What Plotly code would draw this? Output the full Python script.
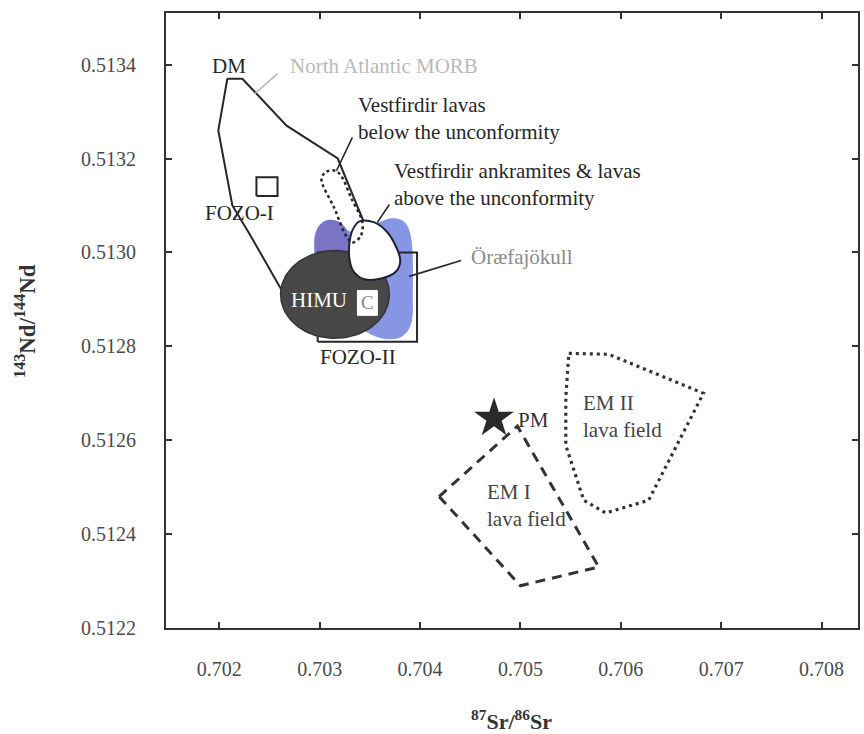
import numpy as np
import plotly.graph_objects as go

# ---- axis settings -------------------------------------------------------
X_RANGE = [0.701469, 0.708363]
Y_RANGE = [0.5122, 0.51351]
X_TICKS = [0.702, 0.703, 0.704, 0.705, 0.706, 0.707, 0.708]
Y_TICKS = [0.5122, 0.5124, 0.5126, 0.5128, 0.5130, 0.5132, 0.5134]

# ---- reservoir fields (87Sr/86Sr, 143Nd/144Nd) ---------------------------
DM_X = [0.70208, 0.70223, 0.70267, 0.70318, 0.70343, 0.70332, 0.70262, 0.70230, 0.70213, 0.70199]
DM_Y = [0.51337, 0.51337, 0.51327, 0.51320, 0.51307, 0.51300, 0.51292, 0.51304, 0.51310, 0.51326]

ORAEFA_X = [0.702979, 0.703068, 0.703197, 0.703316, 0.703724, 0.703843, 0.703902, 0.703922,
            0.703902, 0.703813, 0.703644, 0.703445, 0.703098, 0.702949]
ORAEFA_Y = [0.513051, 0.513068, 0.513064, 0.513043, 0.513072, 0.513064, 0.513036, 0.512919,
            0.512845, 0.512821, 0.512817, 0.512834, 0.512898, 0.513004]
ORAEFA_CORE_X = [0.702959, 0.702998, 0.703098, 0.703217, 0.703296, 0.703316, 0.703147, 0.702979]
ORAEFA_CORE_Y = [0.513026, 0.513055, 0.513068, 0.513060, 0.513030, 0.512979, 0.512979, 0.512994]

FOZO2_X = [0.70298, 0.70397]
FOZO2_Y = [0.51281, 0.51300]
FOZO1_X = [0.70237, 0.70258]
FOZO1_Y = [0.51312, 0.51316]
C_X = [0.703376, 0.703575]
C_Y = [0.512866, 0.512919]

HIMU_X = [0.702611, 0.703694]
HIMU_Y = [0.512817, 0.513004]

ABOVE_X = [0.703396, 0.703545, 0.703674, 0.703763, 0.703803, 0.703763, 0.703624, 0.703445,
           0.703336, 0.703296, 0.703296, 0.703326]
ABOVE_Y = [0.513066, 0.513064, 0.513043, 0.513011, 0.512983, 0.512960, 0.512945, 0.512943,
           0.512960, 0.512987, 0.513019, 0.513047]

BELOW_X = [0.703018, 0.703068, 0.703157, 0.703217, 0.703316, 0.703426, 0.703406, 0.703326,
           0.703267, 0.703147]
BELOW_Y = [0.513157, 0.513172, 0.513174, 0.513162, 0.513115, 0.513064, 0.513034, 0.513021,
           0.513034, 0.513094]

EM1_X = [0.70419, 0.70497, 0.70578, 0.70500]
EM1_Y = [0.51248, 0.51263, 0.51233, 0.51229]
EM2_X = [0.705482, 0.705879, 0.706823, 0.706277, 0.705849, 0.705631, 0.705452, 0.705452]
EM2_Y = [0.512785, 0.512783, 0.512700, 0.512472, 0.512445, 0.512472, 0.512589, 0.512691]

PM_X = [0.704737]
PM_Y = [0.512647]

# leader lines: (x0, x1), (y0, y1)
LEADERS = {
    "morb": ([0.702353, 0.702581], [0.513338, 0.513381]),
    "below": ([0.703167, 0.703326], [0.513174, 0.513245]),
    "above": ([0.703575, 0.703694], [0.513064, 0.513102]),
    "oraefa": ([0.703892, 0.704409], [0.512949, 0.512983]),
}

SERIF = "Liberation Serif"
INK = "#262626"


def closed(xs, ys):
    return list(xs) + [xs[0]], list(ys) + [ys[0]]


def rect(xs, ys):
    return ([xs[0], xs[1], xs[1], xs[0], xs[0]], [ys[0], ys[0], ys[1], ys[1], ys[0]])


fig = go.Figure()


def add(x, y, **kw):
    kw.setdefault("mode", "lines")
    fig.add_trace(go.Scatter(x=x, y=y, hoverinfo="skip", showlegend=False, **kw))


# DM field outline
x, y = closed(DM_X, DM_Y)
add(x, y, line=dict(color=INK, width=2))

# Öræfajökull field (blue)
x, y = closed(ORAEFA_X, ORAEFA_Y)
add(x, y, fill="toself", fillcolor="#8696e5", line=dict(color="#8696e5", width=1, shape="spline"))
x, y = closed(ORAEFA_CORE_X, ORAEFA_CORE_Y)
add(x, y, fill="toself", fillcolor="#7a73c6", line=dict(color="#7a73c6", width=1, shape="spline"))

# FOZO-II box
x, y = rect(FOZO2_X, FOZO2_Y)
add(x, y, line=dict(color=INK, width=2))

# HIMU ellipse
t = np.linspace(0, 2 * np.pi, 121)
cx, cy = np.mean(HIMU_X), np.mean(HIMU_Y)
rx, ry = (HIMU_X[1] - HIMU_X[0]) / 2, (HIMU_Y[1] - HIMU_Y[0]) / 2
add(cx + rx * np.cos(t), cy + ry * np.sin(t), fill="toself", fillcolor="#474747",
    line=dict(color="#333333", width=1.5))

# Vestfirdir ankramites & lavas above the unconformity
x, y = closed(ABOVE_X, ABOVE_Y)
add(x, y, fill="toself", fillcolor="white", line=dict(color="#1d2235", width=2, shape="spline"))

# Vestfirdir lavas below the unconformity
x, y = closed(BELOW_X, BELOW_Y)
add(x, y, line=dict(color=INK, width=2.5, dash="3px,3px", shape="spline"))

# FOZO-I and C boxes
x, y = rect(FOZO1_X, FOZO1_Y)
add(x, y, line=dict(color=INK, width=2))
x, y = rect(C_X, C_Y)
add(x, y, fill="toself", fillcolor="white", line=dict(color="white", width=1))

# Enriched mantle lava fields
x, y = closed(EM1_X, EM1_Y)
add(x, y, line=dict(color="#333333", width=3, dash="10px,7px"))
x, y = closed(EM2_X, EM2_Y)
add(x, y, line=dict(color="#333333", width=3.2, dash="3px,4px"))

# leader lines
for key, (lx, ly) in LEADERS.items():
    color = "#b5b5b5" if key == "morb" else INK
    add(lx, ly, line=dict(color=color, width=1.6))

# primitive mantle
add(PM_X, PM_Y, mode="markers", marker=dict(symbol="star", size=30, color="#2a2a2a",
                                            line=dict(width=0)))


# ---- labels --------------------------------------------------------------
def label(text, x, y, size=21, color=INK, anchor="left", **kw):
    fig.add_annotation(x=x, y=y, xref="x", yref="y", text=text, showarrow=False,
                       xanchor=anchor, yanchor="middle", align=anchor,
                       font=dict(family=SERIF, size=size, color=color), **kw)


label("DM", 0.702094, 0.513398, anchor="center")
label("North Atlantic MORB", 0.70268, 0.513398, color="#b9b9b9")
label("Vestfirdir lavas<br>below the unconformity", 0.703366, 0.513286)
label("Vestfirdir ankramites &amp; lavas<br>above the unconformity", 0.703724, 0.513144)
label("Öræfajökull", 0.704488, 0.512991, color="#8a8a8a")
label("FOZO-I", 0.702204, 0.513083, anchor="center")
label("FOZO-II", 0.703386, 0.512777, anchor="center")
label("HIMU", 0.702998, 0.512898, color="white", anchor="center")
label("C", 0.703475, 0.512894, size=19, color="#8a8a8a", anchor="center")
label("PM", 0.704955, 0.512643, color="#333333")
label("EM I<br>lava field", 0.704647, 0.512460, color="#444444")
label("EM II<br>lava field", 0.705601, 0.512651, color="#444444")

# axis titles
fig.add_annotation(x=-0.2032, y=0.5, xref="paper", yref="paper", showarrow=False,
                   text="<b><sup>143</sup>Nd/<sup>144</sup>Nd</b>", textangle=-90,
                   xanchor="center", yanchor="middle",
                   font=dict(family=SERIF, size=23, color="#333333"))
fig.add_annotation(x=0.4986, y=-0.150, xref="paper", yref="paper", showarrow=False,
                   text="<b><sup>87</sup>Sr/<sup>86</sup>Sr</b>",
                   xanchor="center", yanchor="middle",
                   font=dict(family=SERIF, size=22, color="#333333"))

axis_common = dict(showline=True, linecolor="#333333", linewidth=2, mirror="ticks",
                   ticks="inside", ticklen=6, tickwidth=1.5, tickcolor="#333333",
                   showgrid=False, zeroline=False,
                   tickfont=dict(family=SERIF, size=20, color="#4a4a4a"))

fig.update_xaxes(range=X_RANGE, tickvals=X_TICKS, tickformat=".3f",
                 ticklabelstandoff=22, **axis_common)
fig.update_yaxes(range=Y_RANGE, tickvals=Y_TICKS, tickformat=".4f",
                 ticklabelstandoff=24, **axis_common)

fig.update_layout(width=864, height=734, margin=dict(l=166, r=4, t=13, b=106),
                  paper_bgcolor="white", plot_bgcolor="white", showlegend=False)

fig.write_html("out.html")
